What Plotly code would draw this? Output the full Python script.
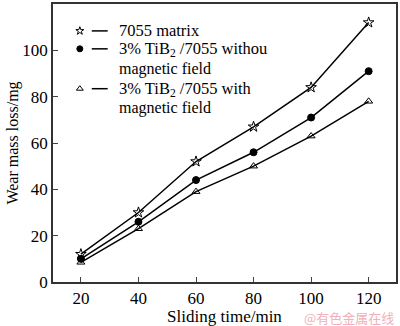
import plotly.graph_objects as go

time_min = [20, 40, 60, 80, 100, 120]
matrix_7055 = [12, 30, 52, 67, 84, 112]
tib2_without = [10, 26, 44, 56, 71, 91]
tib2_with = [8.5, 23, 39, 50, 63, 78]
y_ticks = [0, 20, 40, 60, 80, 100, 120]

legend_line1 = ["7055 matrix", "3% TiB<sub>2</sub> /7055 withou", "3% TiB<sub>2</sub> /7055 with"]
legend_line2 = [None, "magnetic field", "magnetic field"]
symbols = ["star-open", "circle", "triangle-up-open"]
sizes = [8, 7, 7]
series = [matrix_7055, tib2_without, tib2_with]

FONT = "Liberation Serif, Times New Roman, serif"

# plot area in pixels: x 53..398, y 3..282
L, R, T, B = 53, 398, 3, 282
def fx(px):
    return (px - L) / (R - L)
def fy(py):
    return 1 - (py - T) / (B - T)

fig = go.Figure()
for ys, sym, sz, nm in zip(series, symbols, sizes, legend_line1):
    fig.add_trace(go.Scatter(
        x=time_min, y=ys, name=nm, mode="lines+markers", showlegend=False,
        line=dict(color="black", width=1.5),
        marker=dict(symbol=sym, size=sz, color="black", line=dict(color="black", width=1)),
    ))

# manual legend (overlay axis spanning the plot area)
leg_rows = [30, 48, 88]
leg_second = [None, 68, 107]
for i, (row, sym) in enumerate(zip(leg_rows, symbols)):
    fig.add_trace(go.Scatter(
        x=[fx(80)], y=[fy(row)], xaxis="x2", yaxis="y2", mode="markers", showlegend=False,
        hoverinfo="skip",
        marker=dict(symbol=sym, size=6, color="black", line=dict(color="black", width=1)),
    ))
    fig.add_shape(type="line", xref="x2", yref="y2", x0=fx(92), x1=fx(108),
                  y0=fy(row), y1=fy(row), line=dict(color="black", width=1.5))
    fig.add_annotation(text=legend_line1[i], xref="x2", yref="y2", x=fx(117), y=fy(row),
                       xanchor="left", yanchor="middle", showarrow=False,
                       font=dict(family=FONT, size=16.5, color="black"))
    if legend_line2[i]:
        fig.add_annotation(text=legend_line2[i], xref="x2", yref="y2", x=fx(117), y=fy(leg_second[i]),
                           xanchor="left", yanchor="middle", showarrow=False,
                           font=dict(family=FONT, size=16, color="black"))

fig.update_layout(
    width=400, height=326,
    margin=dict(l=L, r=400 - R, t=T, b=326 - B),
    paper_bgcolor="white", plot_bgcolor="white",
    font=dict(family=FONT, color="black", size=17),
    showlegend=False,
    xaxis=dict(
        range=[10.3, 129.5], tickvals=time_min, ticks="inside", ticklen=5,
        showline=True, linecolor="#333", linewidth=1.5, mirror=True,
        showgrid=False, zeroline=False,
        title=dict(text="Sliding time/min", standoff=4, font=dict(size=17)),
    ),
    yaxis=dict(
        range=[0, 120], tickvals=y_ticks, ticks="inside", ticklen=5,
        showline=True, linecolor="#333", linewidth=1.5, mirror=True,
        showgrid=False, zeroline=False,
        title=dict(text="Wear mass loss/mg", standoff=0, font=dict(size=16)),
    ),
    xaxis2=dict(range=[0, 1], overlaying="x", visible=False, fixedrange=True),
    yaxis2=dict(range=[0, 1], overlaying="y", visible=False, fixedrange=True),
)

fig.add_annotation(
    text="@有色金属在线", xref="paper", yref="paper", x=1.0, y=-0.129,
    xanchor="right", yanchor="middle", showarrow=False,
    font=dict(family="Noto Sans CJK SC", size=13, color="#f2b0bb"),
)

fig.write_html("out.html")
